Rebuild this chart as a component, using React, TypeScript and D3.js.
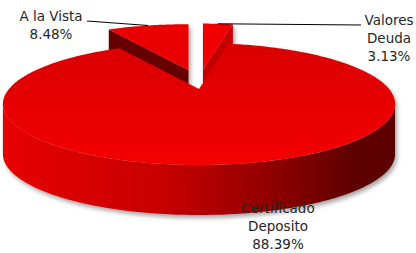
import React from "react";
import * as d3 from "d3";

// slices in chart order, clockwise from 12 o'clock
const categories = ["Valores Deuda", "Certificado Deposito", "A la Vista"];
const shares = [3.13, 88.39, 8.48];
const labelLines = [["Valores", "Deuda"], ["Certificado", "Deposito"], ["A la Vista"]];
const exploded = [true, false, true];

const W = 416;
const H = 253;

// rough perspective camera for the 3D pie
const CX = 199;
const CY = 89;
const F = 715;
const FX = 735;
const DIST = 3.867;
const SIN = 0.31;
const COS = 0.951;
const THICK = 50;
const SIL = Math.acos(-COS / DIST); // silhouette angle of the rim

// label anchors (center x, first baseline) and where the leader ends
const labelLayout = [
  { x: 389, y: 25, lineTo: [361, 25] },
  { x: 278, y: 213, lineTo: null },
  { x: 51, y: 21, lineTo: [87, 21] },
];

type Pt = [number, number];

function proj(theta: number, off: Pt, dy = 0, r = 1): Pt {
  const X = r * Math.sin(theta);
  const Z = r * Math.cos(theta);
  const d = DIST + Z * COS;
  return [CX + (FX * X) / d + off[0], CY - (F * Z * SIN) / d + off[1] + dy];
}

function rim(a0: number, a1: number, off: Pt, dy = 0): Pt[] {
  const n = Math.max(2, Math.ceil((a1 - a0) / (Math.PI / 180)));
  return d3.range(n + 1).map((i) => proj(a0 + ((a1 - a0) * i) / n, off, dy));
}

const path = (pts: Pt[]) => (d3.line()(pts) ?? "") + "Z";

export default function App() {
  const arcs = d3.pie<number>().sort(null).value((d) => d)(shares);
  const pct = d3.format(".2f");

  const slices = arcs.map((a, i) => {
    const mid = (a.startAngle + a.endAngle) / 2;
    const off: Pt = exploded[i] ? [Math.sin(mid) * 40, -Math.cos(mid) * 19.5] : [0, 0];
    const apex = proj(0, off, 0, 0);
    const apexB = proj(0, off, THICK, 0);
    const top = [apex, ...rim(a.startAngle, a.endAngle, off)];
    const face = (ang: number) => path([apex, proj(ang, off), proj(ang, off, THICK), apexB]);
    const s0 = Math.max(a.startAngle, SIL);
    const s1 = Math.min(a.endAngle, 2 * Math.PI - SIL);
    const side =
      s1 > s0 ? path([...rim(s0, s1, off), ...rim(s0, s1, off, THICK).reverse()]) : null;
    const labelPt = proj(mid, off);
    return { i, a, top: path(top), startFace: face(a.startAngle), endFace: face(a.endAngle), side, labelPt };
  });

  // back (exploded) slices first, the big front slice last
  const order = [2, 0, 1];

  return (
    <svg width={W} height={H} style={{ position: "absolute", left: 0, top: 0, background: "#fff" }}>
      <defs>
        <linearGradient id="sideGrad" gradientUnits="userSpaceOnUse" x1={5} x2={400} y1={0} y2={0}>
          <stop offset="0" stopColor="#e60000" />
          <stop offset="0.4" stopColor="#c80000" />
          <stop offset="0.7" stopColor="#8a0000" />
          <stop offset="0.88" stopColor="#5e0000" />
          <stop offset="1" stopColor="#5a0000" />
        </linearGradient>
        <linearGradient id="topGrad" gradientUnits="userSpaceOnUse" x1={0} x2={0} y1={40} y2={165}>
          <stop offset="0" stopColor="#d80000" />
          <stop offset="1" stopColor="#f40202" />
        </linearGradient>
        <filter id="shadow" x="-10%" y="-10%" width="120%" height="130%">
          <feDropShadow dx={2} dy={3} stdDeviation={2} floodColor="#000" floodOpacity={0.35} />
        </filter>
      </defs>

      <g filter="url(#shadow)">
        {order.map((k) => {
          const s = slices[k];
          if (k === 1) {
            return (
              <g key={k}>
                {s.side && <path d={s.side} fill="url(#sideGrad)" />}
                <path d={s.top} fill="url(#topGrad)" />
              </g>
            );
          }
          return (
            <g key={k}>
              <path d={s.startFace} fill={k === 2 ? "#660000" : "#b80000"} />
              <path d={s.endFace} fill={k === 2 ? "#8a0000" : "#c40000"} />
              <path d={s.top} fill={k === 2 ? "#ea0000" : "#f00000"} />
            </g>
          );
        })}
      </g>

      {slices.map((s) => {
        const lay = labelLayout[s.i];
        const lines = [...labelLines[s.i], pct(shares[s.i]) + "%"];
        return (
          <g key={categories[s.i]}>
            {lay.lineTo && (
              <line
                x1={s.labelPt[0]}
                y1={s.labelPt[1]}
                x2={lay.lineTo[0]}
                y2={lay.lineTo[1]}
                stroke="#000"
                strokeWidth={1}
              />
            )}
            <text
              x={lay.x}
              y={lay.y}
              textAnchor="middle"
              fontFamily="DejaVu Sans, sans-serif"
              fontSize={13.5}
              fill="#262626"
            >
              {lines.map((t, j) => (
                <tspan key={j} x={lay.x} dy={j === 0 ? 0 : 18}>
                  {t}
                </tspan>
              ))}
            </text>
          </g>
        );
      })}
    </svg>
  );
}
